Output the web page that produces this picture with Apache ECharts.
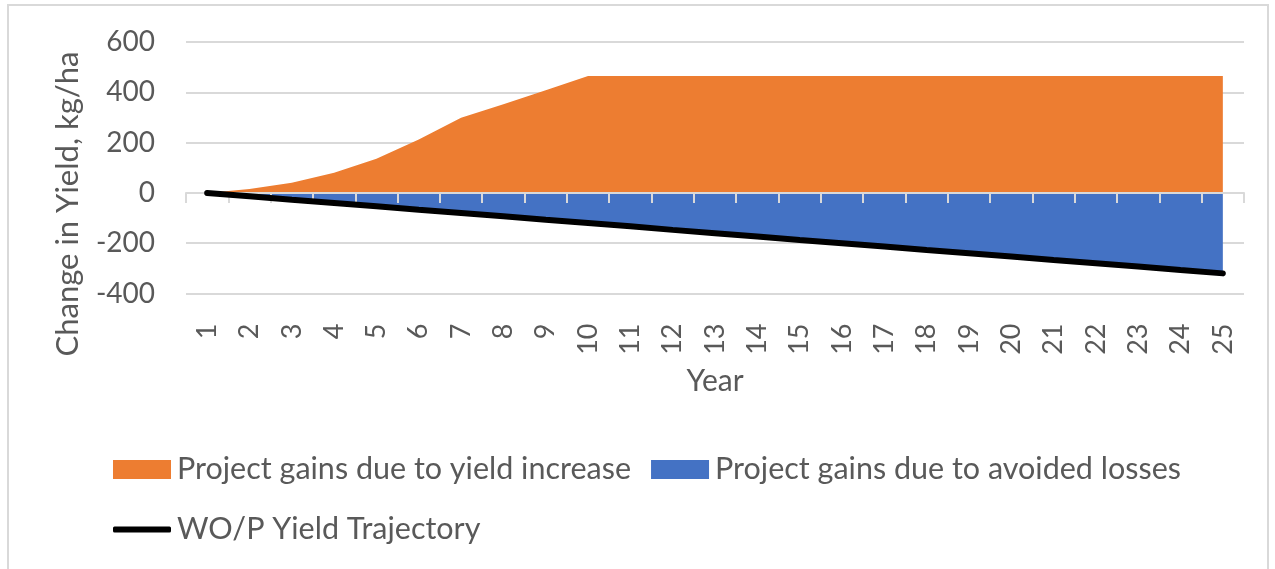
<!DOCTYPE html>
<html>
<head>
<meta charset="utf-8">
<script src="https://cdn.jsdelivr.net/npm/echarts@6/dist/echarts.min.js"></script>
<style>
  html, body { margin: 0; padding: 0; background: #ffffff; }
  #chart { width: 1275px; height: 569px; }
</style>
</head>
<body>
<div id="chart"></div>
<script>
// ---- data ----
const years = ['1','2','3','4','5','6','7','8','9','10','11','12','13','14','15','16','17','18','19','20','21','22','23','24','25'];
const yieldIncreaseGains = [0, 16, 40, 80, 136, 212, 299, 352, 408, 465, 465, 465, 465, 465, 465, 465, 465, 465, 465, 465, 465, 465, 465, 465, 465];
const avoidedLossGains = [0, -13, -27, -40, -53, -67, -80, -93, -107, -120, -133, -147, -160, -173, -187, -200, -213, -227, -240, -253, -267, -280, -293, -307, -320];
const woTrajectory = [0, -13, -27, -40, -53, -67, -80, -93, -107, -120, -133, -147, -160, -173, -187, -200, -213, -227, -240, -253, -267, -280, -293, -307, -320];
const seriesNames = ['Project gains due to yield increase', 'Project gains due to avoided losses', 'WO/P Yield Trajectory'];
const yAxisTitle = 'Change in Yield, kg/ha';
const xAxisTitle = 'Year';

const FONT = 'Lato';
const TXT = '#595959';
const GRID = '#d9d9d9';

const chart = echarts.init(document.getElementById('chart'), null, { renderer: 'canvas' });
chart.setOption({
  backgroundColor: '#ffffff',
  animation: false,
  textStyle: { fontFamily: FONT, color: TXT },
  grid: { left: 186, right: 31, top: 42, bottom: 275.5, containLabel: false },
  xAxis: {
    type: 'category',
    data: years,
    boundaryGap: true,
    z: 5,
    axisLine: { show: true, onZero: true, lineStyle: { color: GRID, width: 2 } },
    axisTick: { show: true, length: 10, lineStyle: { color: GRID, width: 2 } },
    axisLabel: { rotate: 90, margin: 30, fontSize: 27, color: TXT, fontFamily: FONT, interval: 0 },
    splitLine: { show: false }
  },
  yAxis: {
    type: 'value',
    min: -400, max: 600, interval: 200,
    axisLine: { show: false },
    axisTick: { show: false },
    axisLabel: { margin: 31, fontSize: 28, color: TXT, fontFamily: FONT },
    splitLine: { show: true, lineStyle: { color: GRID, width: 2 } }
  },
  legend: [
    {
      data: [seriesNames[0], seriesNames[1]],
      left: 113, top: 454, padding: 0,
      orient: 'horizontal',
      itemWidth: 58, itemHeight: 19, itemGap: 20,
      textStyle: { fontSize: 30.5, color: TXT, fontFamily: FONT, padding: [0,0,0,1], lineHeight: 30 },
      icon: 'rect'
    },
    {
      data: [{ name: seriesNames[2], icon: 'roundRect' }],
      left: 113, top: 514, padding: 0,
      itemWidth: 58, itemHeight: 6,
      textStyle: { fontSize: 30.5, color: TXT, fontFamily: FONT, padding: [0,0,0,1], lineHeight: 30 }
    }
  ],
  graphic: [
    { type: 'rect', shape: { x: 8, y: 5, width: 1260, height: 580 }, style: { fill: 'none', stroke: GRID, lineWidth: 2 }, z: -1, silent: true },
    { type: 'text', x: 68, y: 204, rotation: Math.PI / 2,
      style: { text: yAxisTitle, fontSize: 31, fontFamily: FONT, fill: TXT, align: 'center', verticalAlign: 'middle' } },
    { type: 'text', x: 715, y: 381,
      style: { text: xAxisTitle, fontSize: 30, fontFamily: FONT, fill: TXT, align: 'center', verticalAlign: 'middle' } }
  ],
  series: [
    {
      name: seriesNames[0], type: 'line', data: yieldIncreaseGains,
      symbol: 'none', lineStyle: { width: 0 }, itemStyle: { color: '#ED7D31' },
      areaStyle: { color: '#ED7D31', opacity: 1 }, z: 2
    },
    {
      name: seriesNames[1], type: 'line', data: avoidedLossGains,
      symbol: 'none', lineStyle: { width: 0 }, itemStyle: { color: '#4472C4' },
      areaStyle: { color: '#4472C4', opacity: 1 }, z: 2
    },
    {
      name: seriesNames[2], type: 'line', data: woTrajectory,
      symbol: 'none', lineStyle: { width: 6, color: '#000000', cap: 'round' }, itemStyle: { color: '#000000' }, z: 10
    }
  ]
});
</script>
</body>
</html>
